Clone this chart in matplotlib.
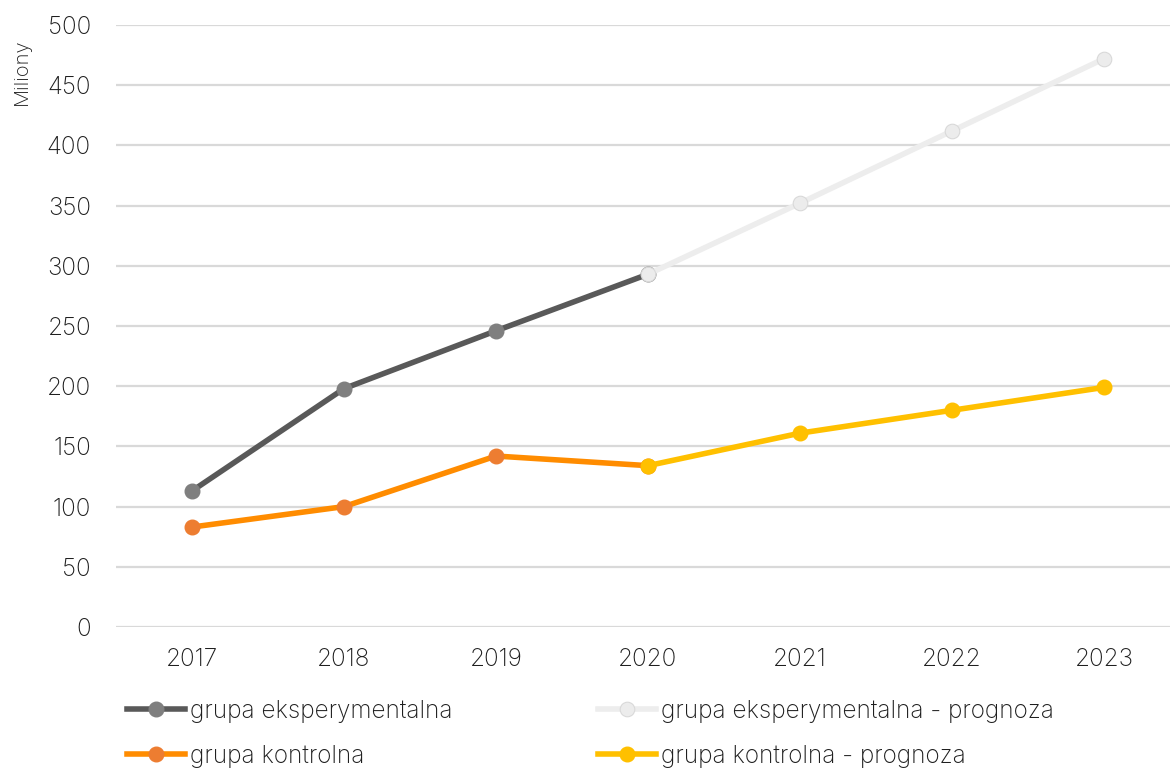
import numpy as np
import matplotlib
matplotlib.use("Agg")
import matplotlib.pyplot as plt

plt.rcParams['font.family'] = ['Inter', 'DejaVu Sans']
plt.rcParams['font.weight'] = 'light'

years = ['2017', '2018', '2019', '2020', '2021', '2022', '2023']
nan = np.nan
eksperymentalna = [113, 198, 246, 293, nan, nan, nan]
eksperymentalna_prognoza = [nan, nan, nan, 293, 352, 412, 472]
kontrolna = [83, 100, 142, 134, nan, nan, nan]
kontrolna_prognoza = [nan, nan, nan, 134, 161, 180, 199]

fig = plt.figure(figsize=(11.7, 7.69), dpi=100)
ax = fig.add_axes([116 / 1170, 142 / 769, 1064 / 1170, 602 / 769])

x = np.arange(len(years))
lw = 4
ms = 10.5
txt = '#1f1f1f'

h1, = ax.plot(x, eksperymentalna, color='#595959', lw=lw, marker='o', ms=ms,
              mfc='#7f7f7f', mec='#7f7f7f', zorder=3,
              label='grupa eksperymentalna')
h3, = ax.plot(x, eksperymentalna_prognoza, color='#ededed', lw=lw, marker='o', ms=ms,
              mfc='#ececec', mec='#d9d9d9', mew=0.8, zorder=4,
              label='grupa eksperymentalna - prognoza')
h2, = ax.plot(x, kontrolna, color='#ff8c00', lw=lw, marker='o', ms=ms,
              mfc='#ed7d31', mec='#ed7d31', zorder=3, label='grupa kontrolna')
h4, = ax.plot(x, kontrolna_prognoza, color='#ffc000', lw=lw, marker='o', ms=ms,
              mfc='#ffc000', mec='#ffc000', zorder=4, label='grupa kontrolna - prognoza')

ax.set_xlim(-0.5, 6.5)
ax.set_ylim(0, 500)
ax.set_yticks(range(0, 501, 50))
ax.set_xticks(x)
ax.set_xticklabels(years)
ax.grid(axis='y', color='#d9d9d9', lw=1.6)
ax.set_axisbelow(True)
for s in ax.spines.values():
    s.set_visible(False)
ax.tick_params(length=0, labelsize=17.5, colors=txt)
ax.tick_params(axis='y', pad=18)
ax.tick_params(axis='x', pad=15)
fig.text(22 / 1170, 1 - 72 / 769, 'Miliony', rotation=90, fontsize=14.5,
         color=txt, ha='center', va='center')

leg_kw = dict(frameon=False, fontsize=17.5, handlelength=2.4, handletextpad=0.2,
              labelspacing=0.9, borderpad=0, borderaxespad=0, labelcolor=txt)
leg1 = fig.legend(handles=[h1, h2], loc='upper left',
                  bbox_to_anchor=(127 / 1170, 1 - 700 / 769), **leg_kw)
leg2 = fig.legend(handles=[h3, h4], loc='upper left',
                  bbox_to_anchor=(598 / 1170, 1 - 700 / 769), **leg_kw)

fig.savefig('out.png', dpi=100)
